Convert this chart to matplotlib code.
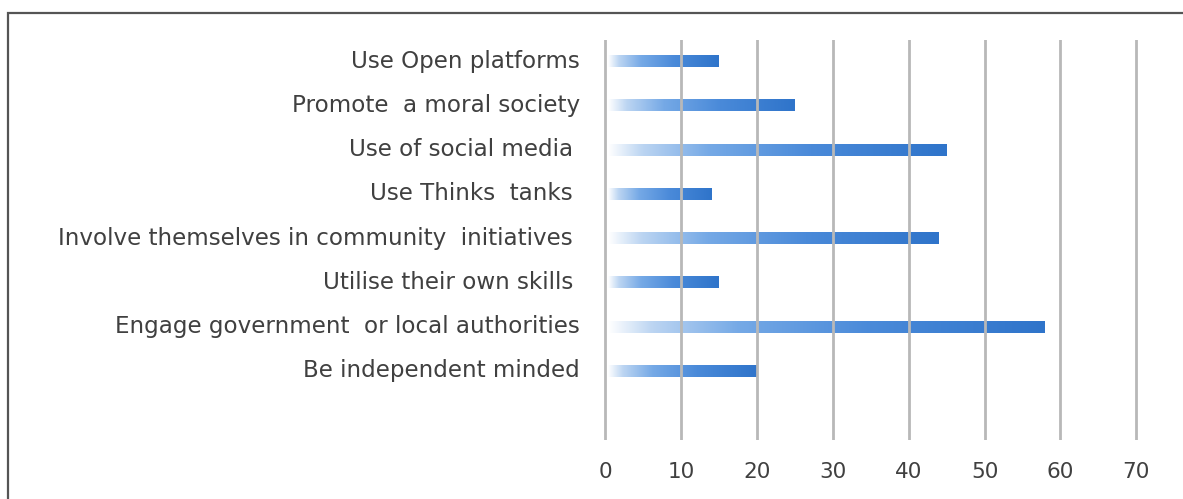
import numpy as np
import matplotlib.pyplot as plt
from matplotlib.colors import LinearSegmentedColormap
from matplotlib.patches import Rectangle

plt.rcParams['font.family'] = ['DejaVu Sans']

categories = ['Use Open platforms', 'Promote  a moral society', 'Use of social media ',
              'Use Thinks  tanks ', 'Involve themselves in community  initiatives ',
              'Utilise their own skills ', 'Engage government  or local authorities',
              'Be independent minded']
values = [15, 25, 45, 14, 44, 15, 58, 20]
xticks = [0, 10, 20, 30, 40, 50, 60, 70]

fig = plt.figure(figsize=(11.83, 4.99), dpi=100)
ax = fig.add_axes([603/1183, 1 - 440/499, (1134 - 603)/1183 * 80/70, 400/499])

# outer frame of the original screenshot
fig.patches.append(Rectangle((8/1183, -0.1), 1.2, (499 - 13)/499 + 0.1, transform=fig.transFigure,
                             fill=False, ec='#555555', lw=1.6))

cmap = LinearSegmentedColormap.from_list(
    'bar', [(0, '#ffffff'), (0.1, '#bcd5f2'), (0.3, '#75a9e6'), (0.6, '#4a8ad9'), (1, '#2f74ca')])
grad = np.linspace(0, 1, 256).reshape(1, -1)
n = len(categories)
h = 0.27
for i, (cat, v) in enumerate(zip(categories, values)):
    y = n - 1 - i
    ax.imshow(grad, cmap=cmap, extent=[0.4, v, y - h/2, y + h/2], aspect='auto', zorder=1,
              interpolation='bilinear')
    ax.text(-3.3, y, cat, ha='right', va='center', fontsize=16.6, color='#404040')

for x in xticks:
    ax.axvline(x, color='#b8b8b8', lw=2.0, zorder=2)

ax.set_xlim(-0.3, 79.7)
ax.set_ylim(-1.56, n - 1 + 0.48)
ax.set_xticks(xticks)
ax.set_xticklabels([str(x) for x in xticks], fontsize=15.5, color='#404040')
ax.tick_params(axis='x', length=0, pad=16)
ax.set_yticks([])
for s in ax.spines.values():
    s.set_visible(False)

fig.savefig('out.png', dpi=100)
